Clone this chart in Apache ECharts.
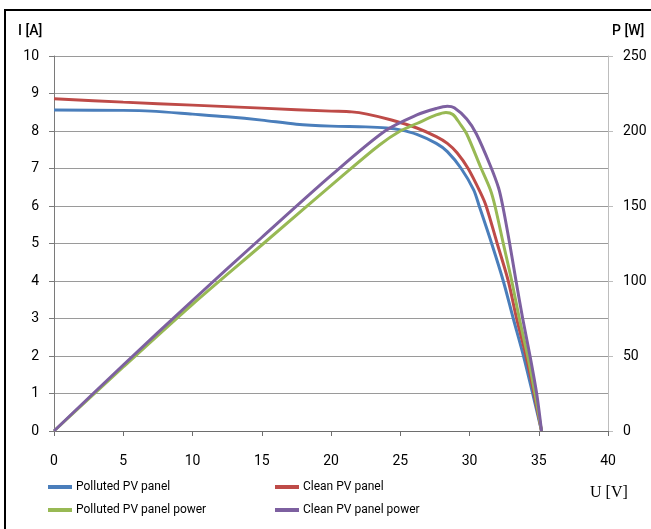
<!DOCTYPE html>
<html>
<head>
<meta charset="utf-8">
<script src="https://cdn.jsdelivr.net/npm/echarts@6/dist/echarts.min.js"></script>
<style>
html,body{margin:0;padding:0;background:#fff;}
#c{width:651px;height:529px;}
</style>
</head>
<body>
<div id="c"></div>
<script>
// Polluted PV panel: current I [A] vs voltage U [V]
const pollutedIV_U = [0, 5, 7, 10, 12.5, 15, 17.5, 20, 22.5, 24, 25, 26.2, 27.6, 28.4, 29.4, 30.3, 30.7, 31.6, 32.44, 33.16, 33.9, 34.56, 35.2];
const pollutedIV_I = [8.56, 8.55, 8.53, 8.45, 8.38, 8.29, 8.18, 8.13, 8.11, 8.08, 8.03, 7.91, 7.67, 7.45, 7.0, 6.43, 6.0, 5.0, 4.0, 3.0, 2.0, 1.0, 0];
// Clean PV panel: current
const cleanIV_U = [0, 5, 10, 15, 20, 21.5, 22.6, 24.3, 26.2, 27.6, 28.4, 29.1, 29.9, 30.8, 31.2, 32.0, 32.8, 33.4, 34.08, 34.66, 35.2];
const cleanIV_I = [8.86, 8.77, 8.69, 8.61, 8.53, 8.51, 8.45, 8.3, 8.08, 7.85, 7.67, 7.42, 7.0, 6.35, 6.0, 5.0, 4.0, 3.0, 2.0, 1.0, 0];
// Polluted PV panel power P [W]
const pollutedP_U = [0, 5, 10, 15, 20.9, 23.5, 25.0, 26.2, 27.6, 28.3, 28.8, 29.3, 29.8, 30.8, 31.5, 31.84, 32.44, 33.05, 33.6, 34.2, 34.73, 35.2];
const pollutedP_P = [0, 42.7, 84.5, 124, 170.7, 190.7, 200, 205, 210.7, 212.4, 211, 205, 198, 176, 161, 150, 125, 100, 75, 50, 25, 0];
// Clean PV panel power
const cleanP_U = [0, 5, 10, 15, 20.05, 23.9, 26.2, 27.6, 28.4, 28.9, 29.8, 30.5, 31.5, 32.1, 32.4, 32.9, 33.36, 33.84, 34.37, 34.85, 35.2];
const cleanP_P = [0, 44, 87, 129, 170.7, 200, 210.7, 215, 216.5, 215.5, 208, 198, 177, 162, 150, 125, 100, 75, 50, 25, 0];

const xTicks = {min: 0, max: 40, interval: 5};
const leftTicks = {min: 0, max: 10, interval: 1};
const rightTicks = {min: 0, max: 250, interval: 50};

const seriesNames = ['Polluted PV panel', 'Clean PV panel', 'Polluted PV panel power', 'Clean PV panel power'];
const seriesColors = ['#4A7EBB', '#BE4B48', '#98B954', '#7D60A0'];

const FONT = "Roboto, 'Noto Sans', sans-serif";

function pairs(xs, ys) { return xs.map((x, i) => [x, ys[i]]); }

const chart = echarts.init(document.getElementById('c'), null, {renderer: 'canvas'});

function mkLegend(name, left, top) {
  return {
    data: [name], left: left, top: top, orient: 'horizontal',
    icon: 'rect', itemWidth: 24, itemHeight: 4, itemGap: 0, padding: 0,
    selectedMode: false,
    textStyle: {fontFamily: FONT, fontSize: 12, color: '#000', padding: [0, 0, 0, -1]}
  };
}

const option = {
  animation: false,
  backgroundColor: '#fff',
  grid: {left: 54, right: 43, top: 56, bottom: 98, containLabel: false},
  legend: [
    mkLegend(seriesNames[0], 48, 481),
    mkLegend(seriesNames[1], 275, 481),
    mkLegend(seriesNames[2], 48, 504),
    mkLegend(seriesNames[3], 275, 504)
  ],
  xAxis: {
    type: 'value', min: xTicks.min, max: xTicks.max, interval: xTicks.interval,
    axisLine: {show: true, onZero: false, lineStyle: {color: '#6e6e6e', width: 1}},
    axisTick: {show: true, length: 5, inside: false, lineStyle: {color: '#6e6e6e'}},
    axisLabel: {fontFamily: FONT, fontSize: 14, color: '#000', margin: 23},
    splitLine: {show: false}
  },
  yAxis: [
    {
      type: 'value', min: leftTicks.min, max: leftTicks.max, interval: leftTicks.interval, position: 'left',
      axisLine: {show: true, lineStyle: {color: '#7a7a7a', width: 1}},
      axisTick: {show: true, length: 5, lineStyle: {color: '#7a7a7a'}},
      axisLabel: {fontFamily: FONT, fontSize: 14, color: '#000', margin: 15},
      splitLine: {show: true, lineStyle: {color: '#9a9a9a', width: 1}}
    },
    {
      type: 'value', min: rightTicks.min, max: rightTicks.max, interval: rightTicks.interval, position: 'right',
      axisLine: {show: true, lineStyle: {color: '#bdbdbd', width: 1}},
      axisTick: {show: true, length: 5, lineStyle: {color: '#bdbdbd'}},
      axisLabel: {fontFamily: FONT, fontSize: 14, color: '#000', margin: 15},
      splitLine: {show: false}
    }
  ],
  graphic: [
    {type: 'rect', shape: {x: 5, y: 10, width: 700, height: 600}, style: {fill: 'none', stroke: '#000', lineWidth: 2}, z: 100, silent: true},
    {type: 'text', left: 18, top: 24, style: {text: 'I [A]', fontFamily: FONT, fontSize: 14, fontWeight: 500, fill: '#000'}},
    {type: 'text', left: 612, top: 24, style: {text: 'P [W]', fontFamily: FONT, fontSize: 14, fontWeight: 500, fill: '#000'}},
    {type: 'text', left: 590, top: 485, style: {text: 'U [V]', fontFamily: "'Liberation Serif', 'DejaVu Serif', serif", fontSize: 16, fill: '#000'}}
  ],
  series: [
    {name: seriesNames[0], type: 'line', yAxisIndex: 0, data: pairs(pollutedIV_U, pollutedIV_I)},
    {name: seriesNames[1], type: 'line', yAxisIndex: 0, data: pairs(cleanIV_U, cleanIV_I)},
    {name: seriesNames[2], type: 'line', yAxisIndex: 1, data: pairs(pollutedP_U, pollutedP_P)},
    {name: seriesNames[3], type: 'line', yAxisIndex: 1, data: pairs(cleanP_U, cleanP_P)}
  ].map((s, i) => Object.assign(s, {
    showSymbol: false, symbol: 'none', smooth: 0.3,
    color: seriesColors[i],
    lineStyle: {color: seriesColors[i], width: 3},
    z: 2 + i
  }))
};
chart.setOption(option);
</script>
</body>
</html>
